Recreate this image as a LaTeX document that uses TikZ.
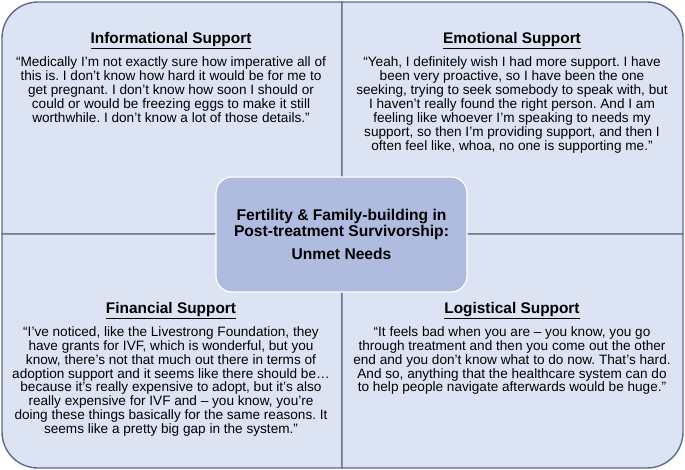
\documentclass[tikz,border=0pt]{standalone}
\usepackage{fontspec}
\setmainfont{Liberation Sans}
\usepackage{xcolor}
\usetikzlibrary{positioning}
\definecolor{panelfill}{HTML}{DCE4F3}
\definecolor{panelline}{HTML}{5B6B90}
\definecolor{hubfill}{HTML}{AFBBDF}
\frenchspacing

\begin{document}
\begin{tikzpicture}[
    x=1pt, y=-1pt,
    panel/.style={fill=panelfill, draw=panelline, line width=1.4pt},
    heading/.style={
        font=\fontsize{15.4}{17}\selectfont\bfseries,
        inner sep=0pt,
        anchor=base
    },
    quote/.style={
        font=\fontsize{13.6}{13.95}\selectfont,
        align=center,
        inner sep=0pt
    },
    hub/.style={
        fill=hubfill, draw=white, line width=1.2pt,
        rounded corners=16pt,
        minimum width=251pt,
        minimum height=115pt,
        align=center,
        font=\fontsize{15.6}{16}\selectfont\bfseries
    }
]
\useasboundingbox (0,0) rectangle (685,470);
% four quadrants, outer corner rounded
\path[panel] (342,2) -- (172,2) [rounded corners=36pt] -- (2,2) -- (2,118) [sharp corners] -- (2,234) -- (342,234) -- cycle;
\path[panel] (342,2) -- (512,2) [rounded corners=36pt] -- (683,2) -- (683,118) [sharp corners] -- (683,234) -- (342,234) -- cycle;
\path[panel] (2,234) -- (2,351) [rounded corners=36pt] -- (2,468) -- (172,468) [sharp corners] -- (342,468) -- (342,234) -- cycle;
\path[panel] (683,234) -- (683,351) [rounded corners=36pt] -- (683,468) -- (512,468) [sharp corners] -- (342,468) -- (342,234) -- cycle;

\node[heading] (infohead) at (171,43.5) {\underline{Informational Support}};
\node[quote, below=12.8pt of infohead.base] (infoquote) {“Medically I'm not exactly sure how imperative all of\\this is. I don't know how hard it would be for me to\\get pregnant. I don't know how soon I should or\\could or would be freezing eggs to make it still\\worthwhile. I don't know a lot of those details.”};

\node[heading] (emohead) at (512,43.5) {\underline{Emotional Support}};
\node[quote, below=12.8pt of emohead.base] (emoquote) {“Yeah, I definitely wish I had more support. I have\\been very proactive, so I have been the one\\seeking, trying to seek somebody to speak with, but\\I haven't really found the right person. And I am\\feeling like whoever I'm speaking to needs my\\support, so then I'm providing support, and then I\\often feel like, whoa, no one is supporting me.”};

\node[heading] (finhead) at (171,313.3) {\underline{Financial Support}};
\node[quote, below=12.8pt of finhead.base] (finquote) {“I've noticed, like the Livestrong Foundation, they\\have grants for IVF, which is wonderful, but you\\know, there's not that much out there in terms of\\adoption support and it seems like there should be…\\because it's really expensive to adopt, but it's also\\really expensive for IVF and – you know, you're\\doing these things basically for the same reasons. It\\seems like a pretty big gap in the system.”};

\node[heading] (loghead) at (512,313.3) {\underline{Logistical Support}};
\node[quote, below=12.8pt of loghead.base] (logquote) {“It feels bad when you are – you know, you go\\through treatment and then you come out the other\\end and you don't know what to do now. That's hard.\\And so, anything that the healthcare system can do\\to help people navigate afterwards would be huge.”};

\node[hub] (hub) at (341.5,234.5) {Fertility \& Family-building in\\Post-treatment Survivorship:\\[7.3pt]Unmet Needs};
\end{tikzpicture}
\end{document}
